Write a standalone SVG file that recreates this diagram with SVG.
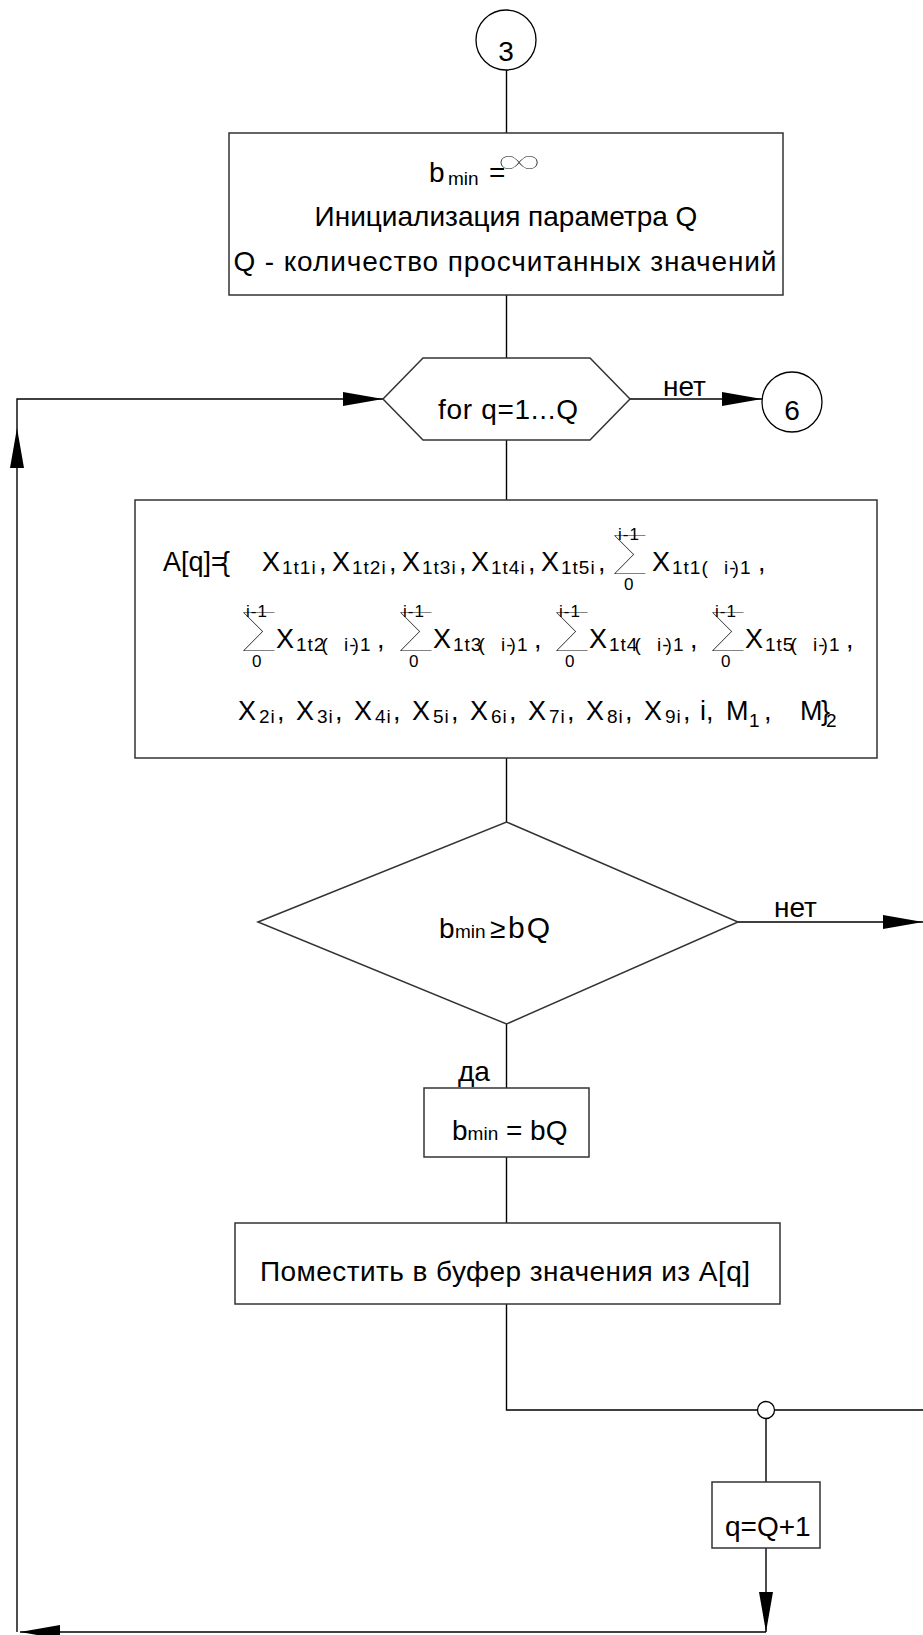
<svg xmlns="http://www.w3.org/2000/svg" width="923" height="1635" viewBox="0 0 923 1635">
<style>
.t{font-family:"Liberation Sans",Arial,sans-serif;font-size:28px;fill:#000}
.e{font-family:"Liberation Sans",Arial,sans-serif;font-size:27px;fill:#000}
.s{font-size:19px;letter-spacing:1px}
.m{font-family:"Liberation Sans",Arial,sans-serif;font-size:19px;fill:#000}
.l{font-size:17px;letter-spacing:1px}
.sg{font-family:Lato,"DejaVu Sans","Liberation Sans",sans-serif;font-size:44px;font-weight:100;fill:#000}
.inf{font-family:Lato,"DejaVu Sans","Liberation Sans",sans-serif;font-size:46px;font-weight:100;fill:#000}
.bx{fill:#fff;stroke:#333;stroke-width:1.5}
.ln{fill:none;stroke:#000;stroke-width:1.4}
.ar{fill:none;stroke:#000;stroke-width:1.4;marker-end:url(#ah)}
</style>
<defs>
<marker id="ah" markerUnits="userSpaceOnUse" markerWidth="40" markerHeight="14" refX="40" refY="7" orient="auto">
<path d="M0,0 L40,7 L0,14 z" fill="#000"/>
</marker>
</defs>
<rect width="923" height="1635" fill="#fff"/>
<g id="connectors">
<path class="ln" d="M506.5,70 V133"/>
<path class="ln" d="M506.5,295 V358"/>
<path class="ar" d="M630,399 H762"/>
<path class="ln" d="M506.5,440 V500"/>
<path class="ln" d="M506.5,758 V822"/>
<path class="ar" d="M738,922 H923"/>
<path class="ln" d="M506.5,1024 V1088"/>
<path class="ln" d="M506.5,1157 V1223"/>
<path class="ln" d="M923,1410 H506.5 V1304"/>
<path class="ln" d="M766,1419 V1482"/>
<path class="ar" d="M766,1548 V1632"/>
<path class="ar" d="M766,1632 H20"/>
<path class="ar" d="M17,1632 V428"/>
<path class="ar" d="M17,428 V399 H383"/>
<text class="t" x="663" y="396">нет</text>
<text class="t" x="774" y="917">нет</text>
<text class="t" x="458" y="1081">да</text>
<circle cx="766" cy="1410" r="8.5" fill="#fff" stroke="#000" stroke-width="1.3"/>
</g>
<g id="n3">
<circle cx="506" cy="40" r="30" fill="#fff" stroke="#000" stroke-width="1.3"/>
<text class="t" x="506" y="61" text-anchor="middle">3</text>
</g>
<g id="init">
<rect class="bx" x="229" y="133" width="554" height="162"/>
<text class="t" x="429" y="182">b<tspan class="m" x="448" y="185">min</tspan><tspan x="489" y="182">=</tspan></text>
<text class="inf" transform="translate(496,176) scale(1.35,1)">∞</text>
<text class="t" x="506" y="226" text-anchor="middle">Инициализация параметра Q</text>
<text class="t" x="505" y="271" text-anchor="middle" textLength="543" lengthAdjust="spacing">Q - количество просчитанных значений</text>
</g>
<g id="loop">
<polygon class="bx" points="383,399 423,358 590,358 630,399 590,440 423,440"/>
<text class="t" x="438" y="419" textLength="140" lengthAdjust="spacing">for q=1...Q</text>
</g>
<g id="n6">
<circle cx="792" cy="402" r="30" fill="#fff" stroke="#000" stroke-width="1.3"/>
<text class="t" x="792" y="420" text-anchor="middle">6</text>
</g>
<g id="array">
<rect class="bx" x="135" y="500" width="742" height="258"/>
<text class="e" y="571"><tspan x="163">A[q]=</tspan><tspan x="221">{</tspan><tspan x="262">X</tspan><tspan class="s" x="282" y="574">1t1i</tspan><tspan x="319" y="571">,</tspan><tspan x="332">X</tspan><tspan class="s" x="352" y="574">1t2i</tspan><tspan x="389" y="571">,</tspan><tspan x="402">X</tspan><tspan class="s" x="422" y="574">1t3i</tspan><tspan x="459" y="571">,</tspan><tspan x="471">X</tspan><tspan class="s" x="491" y="574">1t4i</tspan><tspan x="528" y="571">,</tspan><tspan x="541">X</tspan><tspan class="s" x="561" y="574">1t5i</tspan><tspan x="598" y="571">,</tspan><tspan class="s l" x="618" y="540">i-1</tspan><tspan class="s l" x="624" y="590">0</tspan><tspan x="652" y="571">X</tspan><tspan class="s" x="672" y="574">1t1(</tspan><tspan class="s" x="724">i-</tspan><tspan class="s" dx="-4">)1</tspan><tspan x="758" y="571">,</tspan></text>
<text class="sg" transform="translate(612,566) scale(1.2,1)">∑</text>
<text class="e" y="648"><tspan class="s l" x="246" y="617">i-1</tspan><tspan class="s l" x="252" y="667">0</tspan><tspan x="276" y="648">X</tspan><tspan class="s" x="296" y="651">1t2</tspan><tspan class="s" dx="-4">(</tspan><tspan class="s" x="344">i-</tspan><tspan class="s" dx="-4">)1</tspan><tspan x="377" y="648">,</tspan><tspan class="s l" x="403" y="617">i-1</tspan><tspan class="s l" x="409" y="667">0</tspan><tspan x="433" y="648">X</tspan><tspan class="s" x="453" y="651">1t3</tspan><tspan class="s" dx="-4">(</tspan><tspan class="s" x="501">i-</tspan><tspan class="s" dx="-4">)1</tspan><tspan x="534" y="648">,</tspan><tspan class="s l" x="559" y="617">i-1</tspan><tspan class="s l" x="565" y="667">0</tspan><tspan x="589" y="648">X</tspan><tspan class="s" x="609" y="651">1t4</tspan><tspan class="s" dx="-4">(</tspan><tspan class="s" x="657">i-</tspan><tspan class="s" dx="-4">)1</tspan><tspan x="690" y="648">,</tspan><tspan class="s l" x="715" y="617">i-1</tspan><tspan class="s l" x="721" y="667">0</tspan><tspan x="745" y="648">X</tspan><tspan class="s" x="765" y="651">1t5</tspan><tspan class="s" dx="-4">(</tspan><tspan class="s" x="813">i-</tspan><tspan class="s" dx="-4">)1</tspan><tspan x="846" y="648">,</tspan></text>
<text class="sg" transform="translate(241,643) scale(1.2,1)">∑</text>
<text class="sg" transform="translate(398,643) scale(1.2,1)">∑</text>
<text class="sg" transform="translate(554,643) scale(1.2,1)">∑</text>
<text class="sg" transform="translate(710,643) scale(1.2,1)">∑</text>
<text class="e" y="720"><tspan x="238">X</tspan><tspan class="s" x="259" y="723">2i</tspan><tspan x="277" y="720">,</tspan><tspan x="296">X</tspan><tspan class="s" x="317" y="723">3i</tspan><tspan x="335" y="720">,</tspan><tspan x="354">X</tspan><tspan class="s" x="375" y="723">4i</tspan><tspan x="393" y="720">,</tspan><tspan x="412">X</tspan><tspan class="s" x="433" y="723">5i</tspan><tspan x="451" y="720">,</tspan><tspan x="470">X</tspan><tspan class="s" x="491" y="723">6i</tspan><tspan x="509" y="720">,</tspan><tspan x="528">X</tspan><tspan class="s" x="549" y="723">7i</tspan><tspan x="567" y="720">,</tspan><tspan x="586">X</tspan><tspan class="s" x="607" y="723">8i</tspan><tspan x="625" y="720">,</tspan><tspan x="644">X</tspan><tspan class="s" x="665" y="723">9i</tspan><tspan x="683" y="720">,</tspan><tspan x="700">i,</tspan><tspan x="726">M</tspan><tspan class="s" x="749" y="727">1</tspan><tspan x="764" y="720">,</tspan><tspan x="800">M</tspan><tspan class="s" x="826" y="727">2</tspan><tspan x="821" y="720">}</tspan></text>
</g>
<g id="cond">
<polygon class="bx" points="258,922 506.5,822 738,922 506.5,1024"/>
<text class="t" x="439" y="938">b<tspan class="m" x="455">min</tspan><tspan x="490">≥</tspan><tspan x="508" style="font-size:30px;letter-spacing:2px">bQ</tspan></text>
</g>
<g id="assign">
<rect class="bx" x="424" y="1088" width="165" height="69"/>
<text class="t" x="452" y="1140">b<tspan class="m">min</tspan> = bQ</text>
</g>
<g id="buffer">
<rect class="bx" x="235" y="1223" width="545" height="81"/>
<text class="t" x="505" y="1281" text-anchor="middle" textLength="490" lengthAdjust="spacing">Поместить в буфер значения из A[q]</text>
</g>
<g id="incr">
<rect class="bx" x="712" y="1482" width="108" height="66"/>
<text class="t" x="725" y="1536">q=Q+1</text>
</g>
</svg>
